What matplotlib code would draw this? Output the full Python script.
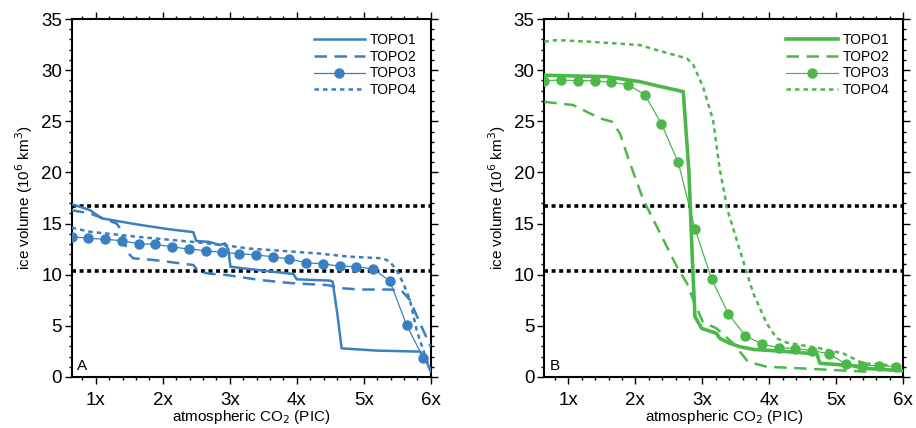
import matplotlib.pyplot as plt
from matplotlib.ticker import MultipleLocator

plt.rcParams['font.family'] = ['Liberation Sans', 'DejaVu Sans']

BLUE = '#3a7fc1'
GREEN = '#4cb84a'

# thresholds (dotted black lines)
thresholds = [16.7, 10.4]

# ---- panel A (blue) ----
a_topo1_x = [0.64, 0.91, 1.09, 1.61, 2.11, 2.41, 2.455, 2.5, 2.70, 2.85, 2.93, 2.98, 3.01, 3.2, 3.95, 4.0, 4.5, 4.535, 4.605, 4.67, 5.19, 5.84, 5.91, 6.0]
a_topo1_y = [16.9, 16.32, 15.51, 14.92, 14.43, 14.2, 14.15, 13.3, 13.2, 12.9, 13.07, 12.41, 10.78, 10.62, 10.07, 9.55, 9.42, 9.32, 6.22, 2.8, 2.58, 2.48, 1.98, 0.52]

a_topo2_x = [0.64, 0.91, 1.31, 1.35, 1.485, 1.56, 1.86, 2.26, 2.455, 2.53, 2.70, 2.955, 3.45, 3.95, 4.45, 4.695, 4.94, 5.39, 5.565, 5.69, 5.84, 6.0]
a_topo2_y = [16.3, 16.0, 15.0, 14.63, 12.09, 11.6, 11.44, 11.11, 10.95, 10.3, 10.1, 9.97, 9.48, 9.16, 8.99, 8.67, 8.55, 8.55, 8.44, 7.53, 5.25, 2.96]

a_topo3_x = [0.64, 0.89, 1.14, 1.39, 1.64, 1.89, 2.14, 2.39, 2.64, 2.89, 3.14, 3.39, 3.64, 3.89, 4.14, 4.39, 4.64, 4.89, 5.14, 5.39, 5.64, 5.89]
a_topo3_y = [13.72, 13.56, 13.46, 13.33, 13.03, 12.97, 12.71, 12.51, 12.35, 12.18, 12.06, 11.93, 11.76, 11.53, 11.18, 11.05, 10.85, 10.78, 10.56, 9.38, 5.08, 1.85]

a_topo4_x = [0.64, 0.91, 1.61, 2.41, 2.90, 3.30, 3.80, 4.30, 4.79, 5.29, 5.39, 5.49, 5.59, 5.69, 5.79, 5.87, 5.95, 6.0]
a_topo4_y = [14.6, 14.2, 13.71, 13.23, 12.9, 12.55, 12.32, 12.09, 11.76, 11.6, 11.27, 10.46, 9.16, 7.53, 4.59, 2.96, 1.5, 0.68]

# ---- panel B (green) ----
b_topo1_x = [0.64, 1.57, 2.07, 2.32, 2.715, 2.80, 2.855, 2.89, 2.99, 3.21, 3.26, 3.41, 3.56, 3.76, 4.26, 4.71, 4.755, 5.25, 5.4, 5.97]
b_topo1_y = [29.5, 29.36, 28.87, 28.48, 27.9, 20.0, 10.8, 5.9, 4.75, 4.27, 3.78, 3.29, 2.96, 2.7, 2.48, 2.25, 1.34, 1.1, 0.85, 0.62]

b_topo2_x = [0.64, 1.07, 1.47, 1.65, 1.77, 1.92, 2.12, 2.37, 2.62, 2.77, 2.865, 3.01, 3.21, 3.46, 3.68, 3.96, 4.46, 4.95, 5.45]
b_topo2_y = [26.9, 26.59, 25.29, 24.96, 23.8, 20.9, 17.3, 14.05, 10.78, 9.16, 7.53, 5.35, 4.76, 3.29, 1.5, 1.0, 0.85, 0.68, 0.52]

b_topo3_x = a_topo3_x
b_topo3_y = [28.97, 29.03, 28.97, 28.97, 28.8, 28.58, 27.6, 24.73, 20.98, 14.47, 9.55, 6.16, 4.04, 3.22, 2.87, 2.77, 2.57, 2.28, 1.27, 1.11, 1.11, 1.01]

b_topo4_x = [0.64, 0.825, 1.32, 2.07, 2.32, 2.77, 2.865, 3.01, 3.16, 3.26, 3.34, 3.36, 3.56, 3.76, 3.96, 4.11, 4.26, 4.755, 5.1, 5.4, 5.75, 5.95]
b_topo4_y = [32.78, 32.94, 32.78, 32.45, 31.96, 31.15, 30.5, 28.38, 25.12, 20.3, 17.6, 16.65, 12.4, 8.18, 5.25, 3.78, 3.36, 2.8, 2.31, 1.34, 1.17, 1.17]

xticks = [1, 2, 3, 4, 5, 6]
xticklabels = ['1x', '2x', '3x', '4x', '5x', '6x']

fig = plt.figure(figsize=(9.16, 4.28), dpi=100)
ax1 = fig.add_axes([0.0783, 0.1192, 0.3919, 0.8364])
ax2 = fig.add_axes([0.5942, 0.1192, 0.3919, 0.8364])


def draw(ax, color, series, label, lw1):
    t1, t2, t3, t4 = series
    for y in thresholds:
        ax.axhline(y, color='black', lw=2.6, ls=(0, (1.1, 1.0)), zorder=1)
    ax.plot(t1[0], t1[1], color=color, lw=lw1, label='TOPO1', zorder=3)
    ax.plot(t2[0], t2[1], color=color, lw=1.8, ls=(0, (5, 3)), label='TOPO2', zorder=3)
    ax.plot(t3[0], t3[1], color=color, lw=0.9, marker='o', ms=6.5, label='TOPO3', zorder=4)
    ax.plot(t4[0], t4[1], color=color, lw=1.8, ls=(0, (1.8, 1.6)), label='TOPO4', zorder=3)

    ax.set_xlim(0.64, 6.0)
    ax.set_ylim(0, 35)
    ax.set_xticks(xticks)
    ax.set_xticklabels(xticklabels)
    ax.xaxis.set_minor_locator(MultipleLocator(0.2))
    ax.yaxis.set_major_locator(MultipleLocator(5))
    ax.yaxis.set_minor_locator(MultipleLocator(1))
    ax.tick_params(which='both', direction='out', top=True, right=True, width=1.0)
    ax.tick_params(which='major', length=5)
    ax.tick_params(which='minor', length=2.5)
    ax.tick_params(axis='y', labelsize=13.5, pad=2)
    ax.tick_params(axis='x', labelsize=13.5, pad=6)
    for s in ax.spines.values():
        s.set_linewidth(1.5)
    ax.set_xlabel('atmospheric CO$_2$ (PIC)', fontsize=11, labelpad=-1)
    ax.set_ylabel('ice volume (10$^6$ km$^3$)', fontsize=11, labelpad=4)
    ax.text(0.015, 0.01, label, transform=ax.transAxes, fontsize=11, ha='left', va='bottom')
    ax.legend(loc='upper right', frameon=False, fontsize=10, handlelength=3.7,
              handletextpad=0.35, labelspacing=0.2, borderaxespad=0.6)


draw(ax1, BLUE, [(a_topo1_x, a_topo1_y), (a_topo2_x, a_topo2_y),
                 (a_topo3_x, a_topo3_y), (a_topo4_x, a_topo4_y)], 'A', 1.8)
draw(ax2, GREEN, [(b_topo1_x, b_topo1_y), (b_topo2_x, b_topo2_y),
                  (b_topo3_x, b_topo3_y), (b_topo4_x, b_topo4_y)], 'B', 2.6)

fig.savefig('out.png', dpi=100)
